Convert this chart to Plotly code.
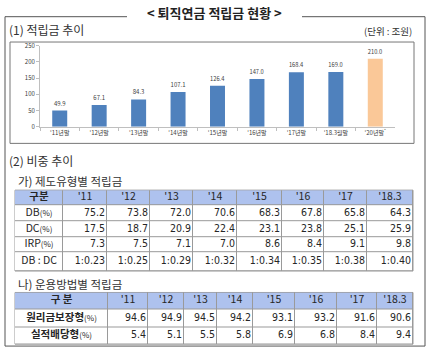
import numpy as np
import plotly.graph_objects as go

W, H = 430, 353

# ---- data ----
years_bar = ["'11년말", "'12년말", "'13년말", "'14년말", "'15년말", "'16년말", "'17년말", "'18.3월말", "'20년말<sup>*</sup>"]
reserve = [49.9, 67.1, 84.3, 107.1, 126.4, 147.0, 168.4, 169.0, 210.0]
bar_colors = ["#4F81BD"] * 8 + ["#FAC898"]

t_years = ["'11", "'12", "'13", "'14", "'15", "'16", "'17", "'18.3"]
pct = "<span style='font-size:8px'>(%)</span>"
t1_rows = ["DB" + pct, "DC" + pct, "IRP" + pct, "DB : DC"]
db = ["75.2", "73.8", "72.0", "70.6", "68.3", "67.8", "65.8", "64.3"]
dc = ["17.5", "18.7", "20.9", "22.4", "23.1", "23.8", "25.1", "25.9"]
irp = ["7.3", "7.5", "7.1", "7.0", "8.6", "8.4", "9.1", "9.8"]
dbdc = ["1:0.23", "1:0.25", "1:0.29", "1:0.32", "1:0.34", "1:0.35", "1:0.38", "1:0.40"]

t2_rows = ["<b>원리금보장형</b>" + pct, "<b>실적배당형</b>" + pct]
guaranteed = ["94.6", "94.9", "94.5", "94.2", "93.1", "93.2", "91.6", "90.6"]
performance = ["5.4", "5.1", "5.5", "5.8", "6.9", "6.8", "8.4", "9.4"]

# ---- layout constants (pixels) ----
T1_COLW = [48, 44, 43, 43, 44, 45, 42, 43, 46]
T1_ROWH = [15, 17, 16, 16, 19]
T1_X0, T1_Y0 = 15, 190
T2_COLW = [93, 40, 36, 33, 36, 42, 42, 40, 36]
T2_ROWH = [17, 19, 17]
T2_X0, T2_Y0 = 15, 295


def px(x):
    return x / W


def py(y):
    return 1 - y / H


FONT = "Noto Sans CJK KR"
NUMFONT = "Liberation Sans Narrow, DejaVu Sans Condensed, Liberation Sans, Arial"
TXT = "#262626"
fig = go.Figure()

fig.add_trace(go.Bar(
    x=years_bar, y=reserve, marker=dict(color=bar_colors, line=dict(width=0)),
    text=[f"{v:.1f}" for v in reserve], textposition="outside",
    textfont=dict(size=6, color="#404040", family=FONT), cliponaxis=False,
    hoverinfo="skip"))

header_fill = "#AEC2EE"
line_col = "#9A9A9A"


def add_table(xa, ya, colw, rowh, x0, y0, header, row_labels, columns):
    xe = np.concatenate([[0], np.cumsum(colw)])
    ye = np.concatenate([[0], np.cumsum(rowh)])
    nr, nc = len(rowh), len(colw)
    z = [[1] * nc] + [[0] * nc for _ in range(nr - 1)]
    fig.add_trace(go.Heatmap(
        x=xe, y=ye, z=z, xaxis=xa, yaxis=ya, xgap=1, ygap=1,
        colorscale=[[0, "white"], [1, header_fill]], zmin=0, zmax=1,
        showscale=False, hoverinfo="skip"))
    xc = (xe[:-1] + xe[1:]) / 2
    yc = (ye[:-1] + ye[1:]) / 2
    fig.add_trace(go.Scatter(
        x=xc, y=[yc[0]] * nc, mode="text", text=header, xaxis=xa, yaxis=ya,
        textposition="middle center", hoverinfo="skip",
        textfont=dict(family=FONT, size=10.5, color=TXT)))
    fig.add_trace(go.Scatter(
        x=[xc[0]] * (nr - 1), y=yc[1:], mode="text", text=row_labels, xaxis=xa, yaxis=ya,
        textposition="middle center", hoverinfo="skip",
        textfont=dict(family=FONT, size=10.5, color=TXT)))
    vx, vy, vt = [], [], []
    for j, col in enumerate(columns):
        for i, v in enumerate(col):
            vx.append(xe[j + 2] - 2)
            vy.append(yc[i + 1])
            vt.append(v)
    fig.add_trace(go.Scatter(
        x=vx, y=vy, mode="text", text=vt, xaxis=xa, yaxis=ya,
        textposition="middle left", hoverinfo="skip",
        textfont=dict(family=NUMFONT, size=10.5, color=TXT)))
    tw, th = xe[-1], ye[-1]
    fig.add_shape(type="rect", xref="paper", yref="paper", layer="below",
                  x0=px(x0), x1=px(x0 + tw), y0=py(y0 + th), y1=py(y0),
                  fillcolor=line_col, line=dict(color=line_col, width=1))
    ax = dict(domain=[px(x0), px(x0 + tw)], range=[0, tw], visible=False, fixedrange=True)
    ay = dict(domain=[py(y0 + th), py(y0)], range=[th, 0], visible=False, fixedrange=True)
    return ax, ay


ax2, ay2 = add_table("x2", "y2", T1_COLW, T1_ROWH, T1_X0, T1_Y0,
                     ["<b>구분</b>"] + t_years, t1_rows, [list(c) for c in zip(db, dc, irp, dbdc)])
ax3, ay3 = add_table("x3", "y3", T2_COLW, T2_ROWH, T2_X0, T2_Y0,
                     ["<b>구 분</b>"] + t_years, t2_rows, [list(c) for c in zip(guaranteed, performance)])

# frames
fc = "#555"
for s in [
    dict(x0=5, x1=127, y0=12, y1=12), dict(x0=302, x1=425, y0=12, y1=12),
    dict(x0=5, x1=5, y0=12, y1=350), dict(x0=425, x1=425, y0=12, y1=350),
    dict(x0=5, x1=425, y0=350, y1=350),
]:
    fig.add_shape(type="line", xref="paper", yref="paper", x0=px(s["x0"]), x1=px(s["x1"]),
                  y0=py(s["y0"]), y1=py(s["y1"]), line=dict(color=fc, width=1))
fig.add_shape(type="rect", xref="paper", yref="paper", x0=px(10), x1=px(414), y0=py(142), y1=py(38),
              line=dict(color="#777", width=1))

ann = [
    dict(text="<b>< 퇴직연금 적립금 현황 ></b>", x=px(214), y=py(8), xanchor="center", yanchor="middle", font=dict(size=13, color="#222")),
    dict(text="(1) 적립금 추이", x=px(7), y=py(25), xanchor="left", yanchor="middle", font=dict(size=12, color="#333")),
    dict(text="(단위 : 조원)", x=px(414), y=py(27), xanchor="right", yanchor="middle", font=dict(size=9.5, color="#333")),
    dict(text="(2) 비중 추이", x=px(7), y=py(160), xanchor="left", yanchor="middle", font=dict(size=12, color="#333")),
    dict(text="가) 제도유형별 적립금", x=px(16), y=py(180.5), xanchor="left", yanchor="middle", font=dict(size=11.5, color="#333")),
    dict(text="나) 운용방법별 적립금", x=px(16), y=py(286), xanchor="left", yanchor="middle", font=dict(size=11.5, color="#333")),
]
for a in ann:
    a.update(xref="paper", yref="paper", showarrow=False)
    a["font"]["family"] = FONT

fig.update_layout(
    width=W, height=H, margin=dict(l=0, r=0, t=0, b=0),
    paper_bgcolor="white", plot_bgcolor="rgba(0,0,0,0)", showlegend=False,
    bargap=0.62, annotations=ann,
    font=dict(family=FONT),
    xaxis=dict(domain=[px(40), px(395)], showline=True, linecolor="#BFBFBF", linewidth=1,
               ticks="outside", tickson="boundaries", ticklen=3, tickcolor="#BFBFBF",
               tickfont=dict(size=6, color="#404040"), showgrid=False, fixedrange=True),
    yaxis=dict(domain=[py(125), py(41.7)], range=[0, 250], dtick=50, showline=True,
               linecolor="#BFBFBF", linewidth=1, ticks="outside", ticklen=3, tickcolor="#BFBFBF",
               tickfont=dict(size=6, color="#404040"), showgrid=False, zeroline=False, fixedrange=True),
    xaxis2=ax2, yaxis2=ay2, xaxis3=ax3, yaxis3=ay3,
)

fig.write_html("out.html")
